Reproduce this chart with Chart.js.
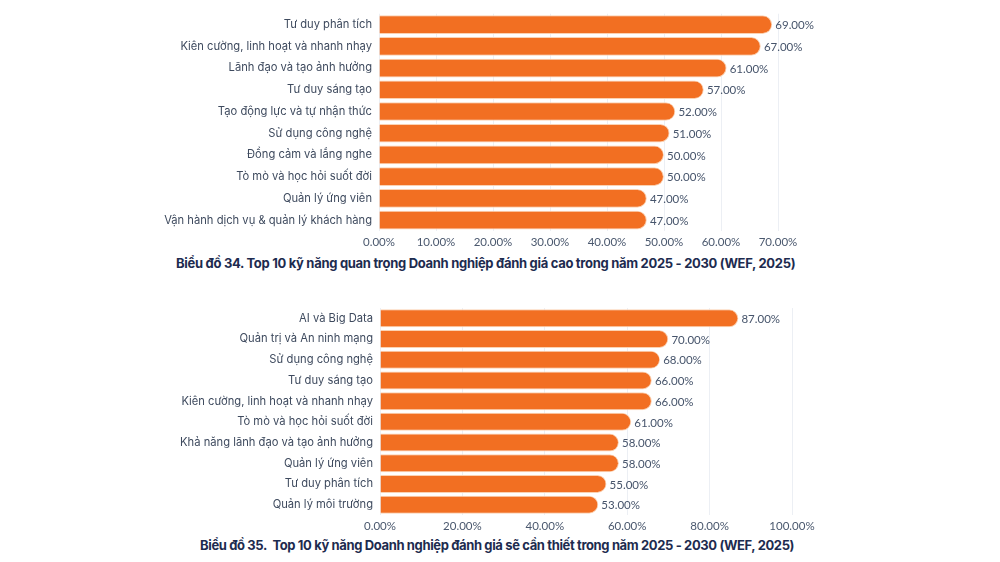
<!DOCTYPE html>
<html>
<head>
<meta charset="utf-8">
<script src="https://cdn.jsdelivr.net/npm/chart.js@4.4.1/dist/chart.umd.min.js"></script>
<style>
  html, body { margin:0; padding:0; background:#ffffff; }
  body { width:1000px; height:562px; position:relative; overflow:hidden; }
  .cv { position:absolute; left:0; width:1000px; }
  .title { position:absolute; left:0; width:1000px; white-space:nowrap;
           font-family: Inter, "Noto Sans", sans-serif; font-weight:700; font-size:13px;
           color:#1d2b4f; letter-spacing:-0.3px; }
</style>
</head>
<body>
<div class="cv" style="top:0;height:252px;"><canvas id="c1"></canvas></div>
<div class="title" id="t1" style="top:255px;left:176px;width:auto;">Biểu đồ 34. Top 10 kỹ năng quan trọng Doanh nghiệp đánh giá cao trong năm 2025 - 2030 (WEF, 2025)</div>
<div class="cv" style="top:290px;height:246px;"><canvas id="c2"></canvas></div>
<div class="title" id="t2" style="top:537px;left:200px;width:auto;letter-spacing:-0.37px;">Biểu đồ 35.&nbsp; Top 10 kỹ năng Doanh nghiệp đánh giá sẽ cần thiết trong năm 2025 - 2030 (WEF, 2025)</div>
<script>
const categories1 = ["Tư duy phân tích","Kiên cường, linh hoạt và nhanh nhạy","Lãnh đạo và tạo ảnh hưởng","Tư duy sáng tạo","Tạo động lực và tự nhận thức","Sử dụng công nghệ","Đồng cảm và lắng nghe","Tò mò và học hỏi suốt đời","Quản lý ứng viên","Vận hành dịch vụ & quản lý khách hàng"];
const values1 = [69,67,61,57,52,51,50,50,47,47];
const axisMax1 = 70;
const axisStep1 = 10;

const categories2 = ["AI và Big Data","Quản trị và An ninh mạng","Sử dụng công nghệ","Tư duy sáng tạo","Kiên cường, linh hoạt và nhanh nhạy","Tò mò và học hỏi suốt đời","Khả năng lãnh đạo và tạo ảnh hưởng","Quản lý ứng viên","Tư duy phân tích","Quản lý môi trường"];
const values2 = [87,70,68,66,66,61,58,58,55,53];
const axisMax2 = 100;
const axisStep2 = 20;

const ORANGE = '#f26f22';
const LABEL = '#3e4a5e';

const valueLabels = {
  id:'valueLabels',
  afterDatasetsDraw(chart){
    const ctx = chart.ctx;
    const meta = chart.getDatasetMeta(0);
    ctx.save();
    ctx.font = '11.5px Lato, "Open Sans", sans-serif';
    ctx.fillStyle = '#46546b';
    ctx.textAlign = 'left';
    ctx.textBaseline = 'middle';
    meta.data.forEach((bar,i)=>{
      const v = chart.data.datasets[0].data[i];
      ctx.fillText(v.toFixed(2)+'%', bar.x+3, bar.y+1);
    });
    ctx.restore();
  }
};

function makeChart(id, cats, vals, max, step, pad, barPct){
  return new Chart(document.getElementById(id), {
    type:'bar',
    data:{ labels:cats, datasets:[{ data:vals, backgroundColor:ORANGE, borderColor:'#fbd2b2', borderWidth:1,
      borderRadius:{topRight:10,bottomRight:10,topLeft:0,bottomLeft:0}, borderSkipped:'start',
      categoryPercentage:1, barPercentage:barPct }]},
    options:{
      indexAxis:'y', responsive:true, maintainAspectRatio:false, animation:false,
      layout:{ padding:pad },
      plugins:{ legend:{display:false}, tooltip:{enabled:false} },
      scales:{
        x:{ min:0, max:max, border:{display:false},
            grid:{ color:'#eceff4', drawTicks:false, lineWidth:1 },
            ticks:{ stepSize:step, padding:4, color:'#4a586e', font:{family:'Lato, "Open Sans", sans-serif', size:11.5},
                    callback:(v)=> Number(v).toFixed(2)+'%' },
            afterFit:(s)=>{ s.height = 20; } },
        y:{ border:{display:false}, grid:{display:false, drawTicks:false},
            ticks:{ padding:7, color:LABEL, font:{family:'Inter, "Noto Sans", sans-serif', size:11.2} },
            afterFit:(s)=>{ s.width = pad.yw; } }
      }
    },
    plugins:[valueLabels]
  });
}

makeChart('c1', categories1, values1, axisMax1, axisStep1, {top:11,bottom:1,left:0,right:222,yw:379}, 0.86);
makeChart('c2', categories2, values2, axisMax2, axisStep2, {top:18,bottom:1,left:0,right:208,yw:380}, 0.87);
</script>
</body>
</html>
